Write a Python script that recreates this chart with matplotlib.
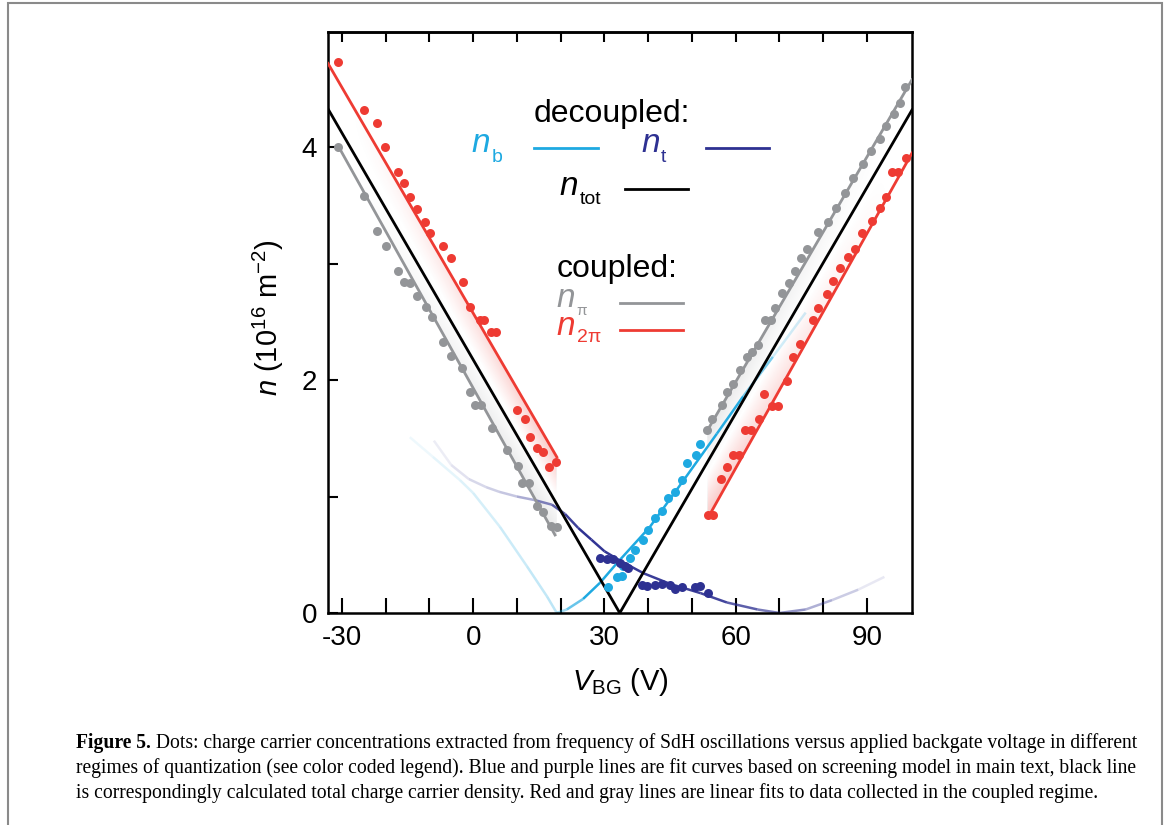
import matplotlib
matplotlib.use('Agg')
import matplotlib.pyplot as plt
import numpy as np
from matplotlib.collections import LineCollection
from matplotlib.colors import to_rgba
from matplotlib.patches import Rectangle
from matplotlib.transforms import offset_copy

plt.rcParams['font.family'] = ['Liberation Sans', 'DejaVu Sans']
plt.rcParams['mathtext.fontset'] = 'custom'
plt.rcParams['mathtext.rm'] = 'Liberation Sans'
plt.rcParams['mathtext.it'] = 'Liberation Sans:italic'
plt.rcParams['mathtext.bf'] = 'Liberation Sans:bold'

# colours
RED = '#EE3B33'
GRAY = '#939598'
LBLUE = '#1EA9E1'
DBLUE = '#2E3192'

# ---- data (V_BG in V, n in 1e16 m^-2) ----
gray_left_v = [-30.9, -25.0, -22.0, -19.9, -17.2, -15.8, -14.5, -12.9, -10.8, -9.4, -6.9, -5.1, -2.6,
               -0.7, 0.4, 1.8, 4.3, 7.7, 10.2, 11.1, 12.7, 14.6, 15.9, 17.8, 19.1]
gray_left_n = [4.00, 3.58, 3.28, 3.15, 2.94, 2.84, 2.83, 2.72, 2.63, 2.54, 2.33, 2.21, 2.10,
               1.90, 1.79, 1.79, 1.59, 1.40, 1.26, 1.12, 1.12, 0.92, 0.87, 0.75, 0.74]
gray_right_v = [53.4, 54.6, 56.9, 58.0, 59.4, 61.0, 62.6, 63.7, 65.1, 66.7, 68.1, 69.0, 70.6, 72.2, 73.5,
                74.9, 76.3, 78.8, 81.1, 82.9, 85.0, 86.8, 89.1, 90.9, 93.0, 94.3, 96.2, 97.5, 98.7]
gray_right_n = [1.57, 1.67, 1.79, 1.90, 1.97, 2.09, 2.20, 2.24, 2.30, 2.52, 2.52, 2.62, 2.75, 2.83, 2.94,
                3.05, 3.13, 3.27, 3.36, 3.48, 3.61, 3.74, 3.86, 3.97, 4.07, 4.18, 4.29, 4.38, 4.52]

red_left_v = [-30.9, -25.0, -22.0, -20.2, -17.2, -15.8, -14.5, -12.9, -11.0, -9.9, -6.9, -5.1, -2.3,
              -0.7, 1.5, 2.5, 4.1, 5.2, 10.0, 11.8, 13.0, 14.6, 15.9, 17.3, 18.9]
red_left_n = [4.73, 4.32, 4.21, 4.00, 3.79, 3.69, 3.57, 3.47, 3.36, 3.26, 3.15, 3.05, 2.84,
              2.63, 2.52, 2.52, 2.41, 2.41, 1.74, 1.67, 1.51, 1.42, 1.38, 1.25, 1.30]
red_right_v = [53.7, 54.8, 56.6, 58.0, 59.4, 60.7, 62.1, 63.5, 65.3, 66.5, 68.3, 69.7, 71.7, 73.1, 74.7,
               77.7, 78.8, 80.9, 82.2, 83.8, 85.7, 87.3, 88.9, 91.1, 93.0, 94.3, 95.7, 97.1, 98.9]
red_right_n = [0.84, 0.84, 1.15, 1.25, 1.36, 1.36, 1.57, 1.57, 1.67, 1.88, 1.78, 1.78, 1.99, 2.20, 2.31,
               2.52, 2.62, 2.74, 2.85, 2.96, 3.06, 3.13, 3.26, 3.37, 3.48, 3.57, 3.79, 3.79, 3.91]

nb_v = [30.8, 32.9, 34.0, 34.2, 35.8, 37.0, 38.8, 40.0, 41.5, 43.1, 44.5, 46.1, 47.7, 48.9, 50.9, 51.8]
nb_n = [0.22, 0.31, 0.32, 0.40, 0.47, 0.54, 0.63, 0.71, 0.82, 0.88, 0.99, 1.04, 1.14, 1.29, 1.36, 1.45]

nt_v = [29.0, 30.6, 32.0, 33.5, 34.6, 35.4, 38.6, 39.7, 41.5, 43.1, 45.0, 46.1, 47.7, 50.7, 51.8, 53.7]
nt_n = [0.47, 0.46, 0.46, 0.43, 0.40, 0.39, 0.24, 0.23, 0.24, 0.25, 0.24, 0.21, 0.22, 0.22, 0.23, 0.17]

# linear fits (end points)
gray_fit_left_v, gray_fit_left_n = [-30.7, 18.7], [4.00, 0.67]
red_fit_left_v, red_fit_left_n = [-33.2, 19.1], [4.72, 1.34]
gray_fit_right_v, gray_fit_right_n = [53.4, 100.3], [1.56, 4.58]
red_fit_right_v, red_fit_right_n = [53.7, 100.3], [0.82, 3.95]

# screening model curves
ntot_v = [-33.2, 33.5, 100.3]
ntot_n = [4.33, 0.0, 4.32]
nb_curve_v = [-14.5, -9.2, -3.0, 0.0, 6.1, 12.3, 16.9, 19.1, 21.4, 25.1, 29.0, 32.9, 40.4, 47.9,
              55.7, 61.7, 68.5, 76.0]
nb_curve_n = [1.51, 1.34, 1.14, 1.03, 0.74, 0.40, 0.14, 0.0, 0.03, 0.12, 0.26, 0.43, 0.74, 1.13,
              1.54, 1.86, 2.20, 2.58]
nt_curve_v = [-9, -5, -1, 3, 6, 10, 14, 18, 21, 24, 27, 30, 34, 39, 45, 52, 58, 65, 70, 76, 82, 88, 94]
nt_curve_n = [1.48, 1.27, 1.15, 1.08, 1.04, 1.00, 0.97, 0.93, 0.85, 0.73, 0.63, 0.53, 0.44, 0.34,
              0.25, 0.17, 0.09, 0.03, 0.0, 0.03, 0.11, 0.20, 0.31]

XLIM = (-33.2, 100.3)
YLIM = (0, 4.99)


def fading_line(ax, v, n, color, alpha_v, alpha_a, lw=1.8, z=3):
    """polyline whose opacity changes along V"""
    v = np.asarray(v, float)
    n = np.asarray(n, float)
    pts = np.column_stack([v, n])
    segs = np.stack([pts[:-1], pts[1:]], axis=1)
    mid = 0.5 * (v[:-1] + v[1:])
    al = np.interp(mid, alpha_v, alpha_a)
    cols = [to_rgba(color, a) for a in al]
    lc = LineCollection(segs, colors=cols, linewidths=lw, capstyle='butt', zorder=z)
    ax.add_collection(lc)


fig = plt.figure(figsize=(11.71, 8.25), dpi=100)
ax = fig.add_axes([0.2801, 0.2570, 0.4987, 0.7042])

# shaded bands between red and gray fits
vv = np.linspace(XLIM[0], XLIM[1], 800)
nn = np.linspace(YLIM[0], YLIM[1], 800)
VV, NN = np.meshgrid(vv, nn)
img = np.zeros(VV.shape + (4,))


def add_band(gv, gn, rv, rn, vmin, vmax, fade_v, fade_a):
    g = np.interp(VV, gv, gn)
    r = np.interp(VV, rv, rn)
    t = (NN - g) / (r - g)
    inside = (t >= 0) & (t <= 1) & (VV >= vmin) & (VV <= vmax)
    fade = np.interp(VV, fade_v, fade_a)
    red = np.array(to_rgba(RED)[:3])
    gry = np.array(to_rgba(GRAY)[:3])
    a_red = np.clip(2 * t - 1, 0, 1) * 0.28 * fade
    a_gry = np.clip(1 - 2 * t, 0, 1) * 0.22 * fade
    hi = inside & (t >= 0.5)
    lo = inside & (t < 0.5)
    img[hi, :3] = red
    img[hi, 3] = a_red[hi]
    img[lo, :3] = gry
    img[lo, 3] = a_gry[lo]


add_band(gray_fit_left_v, gray_fit_left_n, red_fit_left_v, red_fit_left_n, -30.7, 19.0,
         [-28, 19], [0.0, 1.0])
add_band(gray_fit_right_v, gray_fit_right_n, red_fit_right_v, red_fit_right_n, 53.6, 100.3,
         [53.6, 95], [1.0, 0.0])
ax.imshow(img, origin='lower', extent=(XLIM[0], XLIM[1], YLIM[0], YLIM[1]), aspect='auto',
          interpolation='bilinear', zorder=0.5)

# model curves
fading_line(ax, nb_curve_v, nb_curve_n, LBLUE, [-15, 19, 27, 58, 70, 77], [0.05, 0.3, 1, 1, 0.3, 0.0], z=2.5)
fading_line(ax, nt_curve_v, nt_curve_n, DBLUE, [-10, 10, 24, 56, 95], [0.05, 0.3, 1, 0.9, 0.02], z=2.5)
ax.plot(ntot_v, ntot_n, color='black', lw=2.0, zorder=3)

# linear fits
ax.plot(gray_fit_left_v, gray_fit_left_n, color=GRAY, lw=2.0, zorder=3)
ax.plot(gray_fit_right_v, gray_fit_right_n, color=GRAY, lw=2.0, zorder=3)
ax.plot(red_fit_left_v, red_fit_left_n, color=RED, lw=2.0, zorder=3)
ax.plot(red_fit_right_v, red_fit_right_n, color=RED, lw=2.0, zorder=3)

# dots
ms = 42
ax.scatter(gray_left_v, gray_left_n, s=ms, color=GRAY, lw=0, zorder=4)
ax.scatter(gray_right_v, gray_right_n, s=ms, color=GRAY, lw=0, zorder=4)
ax.scatter(red_left_v, red_left_n, s=ms, color=RED, lw=0, zorder=4)
ax.scatter(red_right_v, red_right_n, s=ms, color=RED, lw=0, zorder=4)
ax.scatter(nb_v, nb_n, s=ms, color=LBLUE, lw=0, zorder=4)
ax.scatter(nt_v, nt_n, s=ms, color=DBLUE, lw=0, zorder=4)

ax.set_xlim(*XLIM)
ax.set_ylim(*YLIM)

# axes styling
for sp in ax.spines.values():
    sp.set_linewidth(1.8)
ax.set_xticks([-30, 0, 30, 60, 90])
ax.set_xticklabels(['-30', '0', '30', '60', '90'])
ax.set_xticks(np.arange(-30, 100, 10), minor=True)
ax.set_yticks([0, 2, 4])
ax.set_yticks([1, 3], minor=True)
ax.tick_params(axis='x', which='both', direction='in', length=10.5, width=1.5, labelsize=20, pad=9,
               top=False)
ax.tick_params(axis='y', which='both', direction='in', length=7.5, width=1.5, labelsize=20, pad=8,
               right=False)
sec = ax.secondary_xaxis('top')
sec.set_xticks(np.arange(-30, 100, 10))
sec.tick_params(direction='in', length=7.5, width=1.5, labeltop=False)
sec.spines['top'].set_linewidth(1.8)

ax.set_xlabel(r'$\mathit{V}_{\mathrm{BG}}$ (V)', fontsize=21)
ax.set_ylabel(r'$\mathit{n}$ (10$^{16}$ m$^{-2}$)', fontsize=21)
ax.xaxis.set_label_coords(0.5, -0.092)
ax.yaxis.set_label_coords(-0.072, 0.508)

# legend drawn as text and short lines
tr = ax.transAxes


def legend_sym(x_right, y_base, sub, color, sub_fs=14, dy=-9):
    # italic n followed by a lowered, smaller subscript
    ax.text(x_right, y_base, 'n', transform=tr, fontsize=24, style='italic', color=color,
            ha='right', va='baseline')
    ax.text(x_right, y_base, sub, fontsize=sub_fs, color=color, ha='left', va='baseline',
            transform=offset_copy(tr, fig=fig, x=1.5, y=dy, units='dots'))


ax.text(0.486, 0.845, 'decoupled:', transform=tr, fontsize=23, ha='center', va='baseline')
legend_sym(0.277, 0.793, 'b', LBLUE, dy=-10)
ax.plot([0.353, 0.462], [0.800, 0.800], transform=tr, color=LBLUE, lw=2.0)
legend_sym(0.568, 0.793, 't', DBLUE, dy=-10)
ax.plot([0.647, 0.755], [0.800, 0.800], transform=tr, color=DBLUE, lw=2.0)
legend_sym(0.428, 0.719, 'tot', 'black', dy=-9)
ax.plot([0.509, 0.616], [0.730, 0.730], transform=tr, color='black', lw=2.0)
ax.text(0.495, 0.578, 'coupled:', transform=tr, fontsize=23, ha='center', va='baseline')
legend_sym(0.423, 0.527, 'π', GRAY, sub_fs=11, dy=-8)
ax.plot([0.500, 0.608], [0.534, 0.534], transform=tr, color=GRAY, lw=2.0)
legend_sym(0.423, 0.478, '2π', RED, sub_fs=14, dy=-7)
ax.plot([0.500, 0.608], [0.487, 0.487], transform=tr, color=RED, lw=2.0)

# caption
cap_fs = 14.1
serif = ['Liberation Serif', 'DejaVu Serif']
line1 = ' Dots: charge carrier concentrations extracted from frequency of SdH oscillations versus applied backgate voltage in different'
line2 = 'regimes of quantization (see color coded legend). Blue and purple lines are fit curves based on screening model in main text, black line'
line3 = 'is correspondingly calculated total charge carrier density. Red and gray lines are linear fits to data collected in the coupled regime.'
x0 = 76 / 1171
b1 = fig.text(x0, 1 - 748 / 825, 'Figure 5.', fontsize=cap_fs, family=serif, weight='bold', va='baseline')
fig.canvas.draw()
bb = b1.get_window_extent()
fig.text(bb.x1 / fig.bbox.width, 1 - 748 / 825, line1, fontsize=cap_fs, family=serif, va='baseline')
fig.text(x0, 1 - 773 / 825, line2, fontsize=cap_fs, family=serif, va='baseline')
fig.text(x0, 1 - 798 / 825, line3, fontsize=cap_fs, family=serif, va='baseline')

# page frame
fig.patches.append(Rectangle((8 / 1171, -0.05), 1154 / 1171, 1.05 - 3.5 / 825, transform=fig.transFigure,
                             fill=False, edgecolor='#8a8a8a', lw=1.5))

fig.savefig('out.png', dpi=100)
